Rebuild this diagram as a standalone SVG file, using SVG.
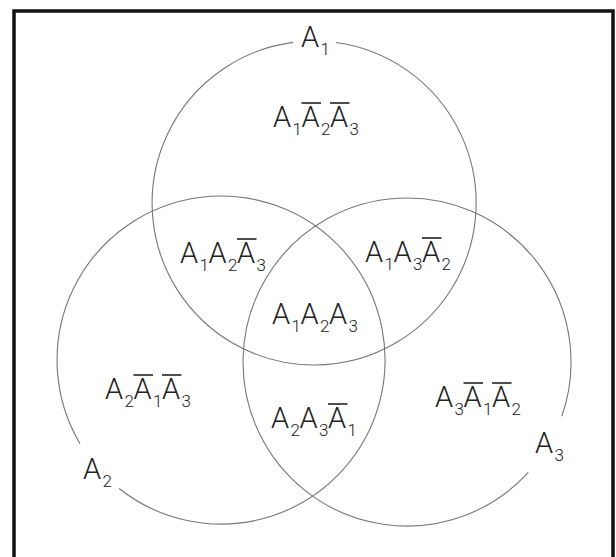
<svg xmlns="http://www.w3.org/2000/svg" width="616" height="557" viewBox="0 0 616 557">
<style>
.frame{fill:none;stroke:#111;stroke-width:3.5}
.c{fill:none;stroke:#777;stroke-width:1.1}
.t{font-family:Roboto,"Liberation Sans",sans-serif;font-weight:300;fill:#222}
.m{font-size:29px}
.s{font-size:17px}
.ob{stroke:#222;stroke-width:1.6}
</style>
<rect width="616" height="557" fill="#fff"/>
<path class="frame" d="M14 600 V11 H613 V600"/>
<g id="connectors">
<path id="circleA1" class="c" d="M336 42.5 A162 162 0 1 1 293 42.4"/>
<path id="circleA2" class="c" d="M80 443.7 A164 164 0 1 1 119.1 488.5"/>
<path id="circleA3" class="c" d="M528.3 472.4 A164 164 0 1 1 561.8 416.2"/>
</g>
<g id="labelA1"><text class="t"><tspan class="m" x="301" y="47">A</tspan><tspan class="s" x="320.5" y="55">1</tspan></text></g>
<g id="labelA2"><text class="t"><tspan class="m" x="83" y="479">A</tspan><tspan class="s" x="102.5" y="487">2</tspan></text></g>
<g id="labelA3"><text class="t"><tspan class="m" x="535" y="453">A</tspan><tspan class="s" x="554.5" y="461">3</tspan></text></g>
<g id="r1">
<text class="t"><tspan class="m" x="273" y="127">A</tspan><tspan class="s" x="292.5" y="135">1</tspan><tspan class="m" x="301.5" y="127">A</tspan><tspan class="s" x="321" y="135">2</tspan><tspan class="m" x="330" y="127">A</tspan><tspan class="s" x="349.5" y="135">3</tspan></text>
<line class="ob" x1="301.5" y1="103" x2="321" y2="103"/><line class="ob" x1="330" y1="103" x2="349.5" y2="103"/>
</g>
<g id="r2">
<text class="t"><tspan class="m" x="180" y="263">A</tspan><tspan class="s" x="199.5" y="271">1</tspan><tspan class="m" x="208.5" y="263">A</tspan><tspan class="s" x="228" y="271">2</tspan><tspan class="m" x="237" y="263">A</tspan><tspan class="s" x="256.5" y="271">3</tspan></text>
<line class="ob" x1="237" y1="239" x2="256.5" y2="239"/>
</g>
<g id="r3">
<text class="t"><tspan class="m" x="365" y="262">A</tspan><tspan class="s" x="384.5" y="270">1</tspan><tspan class="m" x="393.5" y="262">A</tspan><tspan class="s" x="413" y="270">3</tspan><tspan class="m" x="422" y="262">A</tspan><tspan class="s" x="441.5" y="270">2</tspan></text>
<line class="ob" x1="422" y1="238" x2="441.5" y2="238"/>
</g>
<g id="r4">
<text class="t"><tspan class="m" x="272" y="324">A</tspan><tspan class="s" x="291.5" y="332">1</tspan><tspan class="m" x="300.5" y="324">A</tspan><tspan class="s" x="320" y="332">2</tspan><tspan class="m" x="329" y="324">A</tspan><tspan class="s" x="348.5" y="332">3</tspan></text>
</g>
<g id="r5">
<text class="t"><tspan class="m" x="105" y="399">A</tspan><tspan class="s" x="124.5" y="407">2</tspan><tspan class="m" x="133.5" y="399">A</tspan><tspan class="s" x="153" y="407">1</tspan><tspan class="m" x="162" y="399">A</tspan><tspan class="s" x="181.5" y="407">3</tspan></text>
<line class="ob" x1="133.5" y1="375" x2="153" y2="375"/><line class="ob" x1="162" y1="375" x2="181.5" y2="375"/>
</g>
<g id="r6">
<text class="t"><tspan class="m" x="271" y="428">A</tspan><tspan class="s" x="290.5" y="436">2</tspan><tspan class="m" x="299.5" y="428">A</tspan><tspan class="s" x="319" y="436">3</tspan><tspan class="m" x="328" y="428">A</tspan><tspan class="s" x="347.5" y="436">1</tspan></text>
<line class="ob" x1="328" y1="404" x2="347.5" y2="404"/>
</g>
<g id="r7">
<text class="t"><tspan class="m" x="435" y="407">A</tspan><tspan class="s" x="454.5" y="415">3</tspan><tspan class="m" x="463.5" y="407">A</tspan><tspan class="s" x="483" y="415">1</tspan><tspan class="m" x="492" y="407">A</tspan><tspan class="s" x="511.5" y="415">2</tspan></text>
<line class="ob" x1="463.5" y1="383" x2="483" y2="383"/><line class="ob" x1="492" y1="383" x2="511.5" y2="383"/>
</g>
</svg>
